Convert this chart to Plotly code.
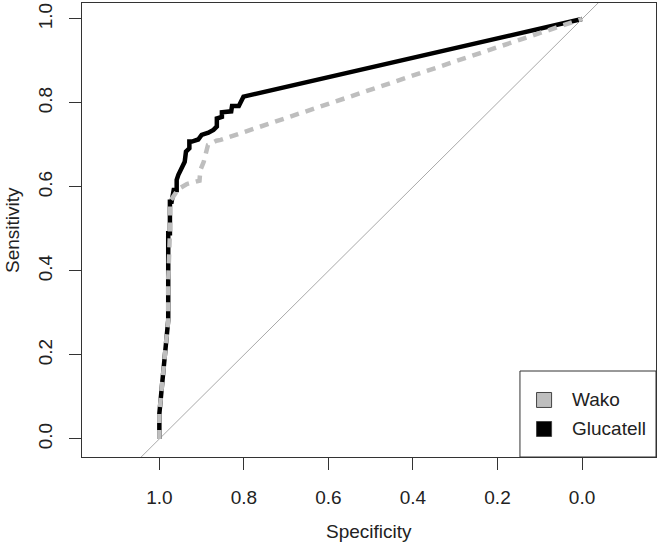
import plotly.graph_objects as go

# ROC curves (x = specificity, y = sensitivity)
glucatell_spec = [1.0, 1.0, 0.994, 0.988, 0.979, 0.979, 0.979, 0.975, 0.975, 0.971, 0.968,
                  0.966, 0.959, 0.959, 0.955, 0.947, 0.940, 0.937, 0.929, 0.929, 0.923,
                  0.908, 0.900, 0.884, 0.872, 0.864, 0.864, 0.852, 0.852, 0.830, 0.828,
                  0.812, 0.808, 0.801, 0.0]
glucatell_sens = [0.0, 0.06, 0.125, 0.20, 0.283, 0.379, 0.49, 0.49, 0.565, 0.565, 0.585,
                  0.593, 0.593, 0.617, 0.629, 0.648, 0.660, 0.684, 0.692, 0.708, 0.708,
                  0.713, 0.724, 0.729, 0.736, 0.744, 0.763, 0.767, 0.778, 0.780, 0.793,
                  0.793, 0.800, 0.815, 1.0]

wako_spec = [1.0, 1.0, 0.994, 0.988, 0.979, 0.979, 0.975, 0.975, 0.965, 0.955, 0.935,
             0.905, 0.903, 0.895, 0.885, 0.865, 0.855, 0.0]
wako_sens = [0.0, 0.06, 0.125, 0.20, 0.283, 0.38, 0.49, 0.565, 0.58, 0.595, 0.607,
             0.615, 0.640, 0.660, 0.700, 0.710, 0.712, 1.0]

diag_spec = [1.2, -0.2]
diag_sens = [-0.2, 1.2]

ticks = [1.0, 0.8, 0.6, 0.4, 0.2, 0.0]
tick_labels = ["1.0", "0.8", "0.6", "0.4", "0.2", "0.0"]

legend_names = ["Wako", "Glucatell"]
legend_colors = ["#BEBEBE", "black"]

FONT = "Liberation Sans, Arial, sans-serif"
TXT = "#222"

fig = go.Figure()
fig.add_trace(go.Scatter(x=diag_spec, y=diag_sens, mode="lines",
                         line=dict(color="#A9A9A9", width=1),
                         showlegend=False, hoverinfo="skip"))
fig.add_trace(go.Scatter(x=glucatell_spec, y=glucatell_sens, mode="lines",
                         name="Glucatell", line=dict(color="black", width=4.5),
                         showlegend=False))
fig.add_trace(go.Scatter(x=wako_spec, y=wako_sens, mode="lines",
                         name="Wako", line=dict(color="#BEBEBE", width=4.5, dash="9px,7px"),
                         showlegend=False))

axis_common = dict(showgrid=False, zeroline=False, showline=True, mirror=True,
                   linecolor="#333", linewidth=1, ticks="outside", ticklen=12,
                   tickcolor="#333", tickvals=ticks, ticktext=tick_labels,
                   tickfont=dict(family=FONT, size=19, color=TXT))

fig.update_xaxes(range=[1.183, -0.175], ticklabelstandoff=11, **axis_common)
fig.update_yaxes(range=[-0.043, 1.038], tickangle=-90, ticklabelstandoff=9, **axis_common)

fig.add_annotation(text="Specificity", xref="paper", yref="paper", x=0.5, y=0,
                   yshift=-74, showarrow=False, yanchor="middle",
                   font=dict(family=FONT, size=19, color=TXT))
fig.add_annotation(text="Sensitivity", xref="paper", yref="paper", x=0, y=0.5,
                   xshift=-70, showarrow=False, textangle=-90, xanchor="center",
                   font=dict(family=FONT, size=19, color=TXT))

# legend box in the bottom-right corner, drawn like the R legend()
fig.add_shape(type="rect", xref="paper", yref="paper", x0=0.763, x1=1.0, y0=0.0, y1=0.1894,
              line=dict(color="#333", width=1), fillcolor="white", layer="above")
legend_y = [0.1256, 0.0617]
for name, col, ly in zip(legend_names, legend_colors, legend_y):
    fig.add_shape(type="rect", xref="paper", yref="paper",
                  x0=0.805 - 0.0131, x1=0.805 + 0.0131, y0=ly - 0.0165, y1=ly + 0.0165,
                  line=dict(color="#444", width=1), fillcolor=col, layer="above")
    fig.add_annotation(text=name, xref="paper", yref="paper", x=0.850, y=ly,
                       xanchor="left", yanchor="middle", showarrow=False,
                       font=dict(family=FONT, size=19, color=TXT))

fig.update_layout(
    width=661, height=544,
    margin=dict(l=82, r=5, t=3, b=87),
    plot_bgcolor="white", paper_bgcolor="white",
    showlegend=False,
)

fig.write_html("out.html", config={"displayModeBar": False},
               post_script="document.body.style.margin='0';")
